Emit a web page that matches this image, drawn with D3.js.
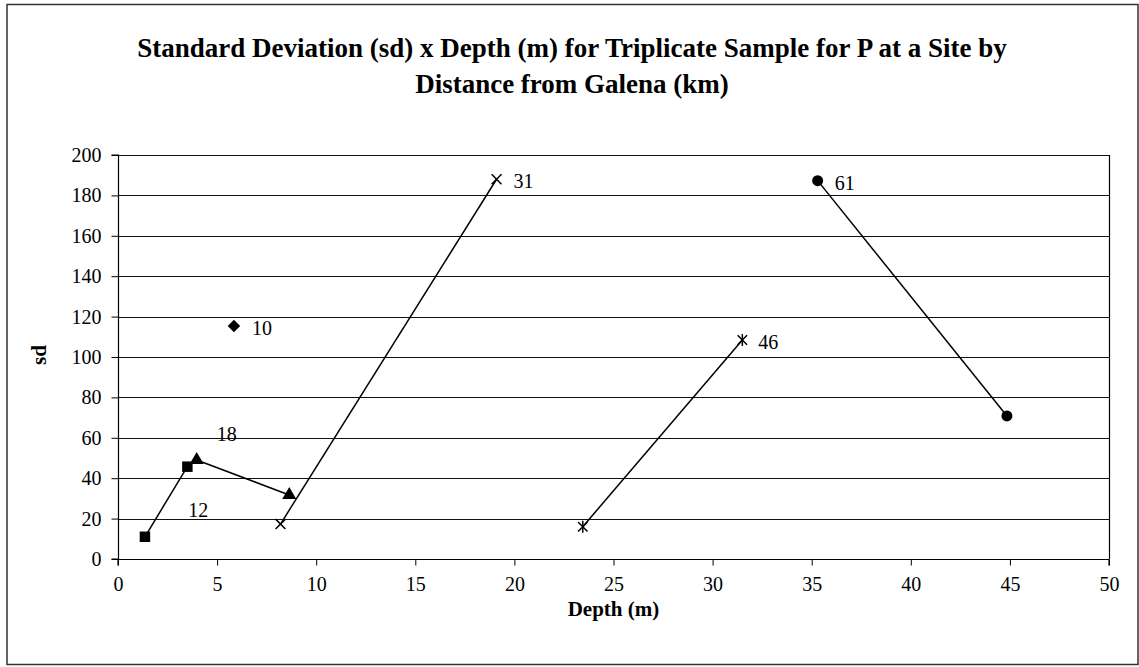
<!DOCTYPE html>
<html>
<head>
<meta charset="utf-8">
<script src="https://cdn.jsdelivr.net/npm/d3@7"></script>
<style>
  html, body { margin: 0; padding: 0; background: #fff; }
  svg { display: block; font-family: "Liberation Serif", "Times New Roman", serif; }
</style>
</head>
<body>
<svg id="chart" width="1139" height="667"></svg>
<script>
// Standard deviation of triplicate P samples versus depth, one series per site
// (site named by its distance from Galena, km).
const siteNames = ["10", "12", "18", "31", "46", "61"];
const depth10 = [5.85];
const sd10 = [115.3];
const depth12 = [1.36, 3.5];
const sd12 = [11, 45.7];
const depth18 = [3.97, 8.64];
const sd18 = [49, 31.7];
const depth31 = [8.2, 19.1];
const sd31 = [17.3, 188];
const depth46 = [23.45, 31.5];
const sd46 = [16, 108.4];
const depth61 = [35.3, 44.85];
const sd61 = [187.3, 70.8];

const xTicks = [0, 5, 10, 15, 20, 25, 30, 35, 40, 45, 50];
const yTicks = [0, 20, 40, 60, 80, 100, 120, 140, 160, 180, 200];

const titleLines = [
  "Standard Deviation (sd) x Depth (m) for Triplicate Sample for P at a Site by",
  "Distance from Galena (km)"
];
const xTitle = "Depth (m)";
const yTitle = "sd";

// Series table built from the arrays above
const seriesDepths = [depth10, depth12, depth18, depth31, depth46, depth61];
const seriesSd = [sd10, sd12, sd18, sd31, sd46, sd61];
const series = siteNames.map((name, i) => ({
  name,
  points: seriesDepths[i].map((d, j) => ({ depth: d, sd: seriesSd[i][j] }))
}));

// Presentation: marker per series, and where each name label sits
const markerKind = { "10": "diamond", "12": "square", "18": "triangle", "31": "x", "46": "star", "61": "circle" };
const labelPlacement = {
  "10": { point: 0, dx: 18, dy: 2 },
  "12": { point: 1, dx: 1, dy: 43 },
  "18": { point: 0, dx: 20, dy: -26 },
  "31": { point: 1, dx: 17, dy: 2 },
  "46": { point: 1, dx: 16, dy: 2 },
  "61": { point: 0, dx: 17, dy: 2 }
};

const FONT = "'Liberation Serif', 'Times New Roman', serif";
const svg = d3.select("#chart");
const plot = { left: 118, right: 1109, top: 155, bottom: 559 };

// Chart frame
svg.append("rect")
  .attr("x", 7).attr("y", 4.5)
  .attr("width", 1131).attr("height", 660)
  .attr("fill", "#fff").attr("stroke", "#333").attr("stroke-width", 1.5);

const x = d3.scaleLinear().domain([0, 50]).range([plot.left, plot.right]);
const y = d3.scaleLinear().domain([0, 200]).range([plot.bottom, plot.top]);

// Horizontal gridlines
svg.append("g")
  .selectAll("line")
  .data(yTicks.filter(t => t > 0))
  .join("line")
  .attr("x1", plot.left).attr("x2", plot.right)
  .attr("y1", d => Math.round(y(d)) + 0.5).attr("y2", d => Math.round(y(d)) + 0.5)
  .attr("stroke", "#111").attr("stroke-width", 1);

// Plot area right edge
svg.append("line")
  .attr("x1", plot.right + 0.5).attr("x2", plot.right + 0.5)
  .attr("y1", plot.top).attr("y2", plot.bottom)
  .attr("stroke", "#000").attr("stroke-width", 1.2);

// Axes
const xAxis = d3.axisBottom(x).tickValues(xTicks).tickSize(6).tickPadding(11).tickFormat(d3.format("d"));
const yAxis = d3.axisLeft(y).tickValues(yTicks).tickSize(7).tickPadding(10).tickFormat(d3.format("d"));

const gx = svg.append("g").attr("transform", `translate(0,${plot.bottom + 0.5})`).call(xAxis);
const gy = svg.append("g").attr("transform", `translate(${plot.left + 0.5},0)`).call(yAxis);
[gx, gy].forEach(g => {
  g.attr("font-family", FONT).attr("font-size", 20);
  g.select(".domain").attr("stroke", "#000").attr("stroke-width", 1.2);
  g.selectAll(".tick line").attr("stroke", "#000").attr("stroke-width", 1);
  g.selectAll(".tick text").attr("fill", "#000").style("font-family", FONT);
});
gx.select(".domain").attr("d", `M${plot.left},6V0H${plot.right}V6`);
gy.select(".domain").attr("d", `M-7,${plot.bottom}H0V${plot.top}H-7`);

// Series lines
const line = d3.line().x(d => x(d.depth)).y(d => y(d.sd));
svg.append("g")
  .selectAll("path")
  .data(series.filter(s => s.points.length > 1))
  .join("path")
  .attr("d", s => line(s.points))
  .attr("fill", "none")
  .attr("stroke", "#000")
  .attr("stroke-width", 1.5);

// Markers
const symbolFor = {
  diamond: d3.symbol(d3.symbolDiamond2, 100),
  square: d3.symbol(d3.symbolSquare, 110),
  triangle: d3.symbol(d3.symbolTriangle, 85),
  circle: d3.symbol(d3.symbolCircle, 95),
  x: d3.symbol(d3.symbolX, 65),
  star: d3.symbol(d3.symbolX, 60)
};
const markers = svg.append("g");
series.forEach(s => {
  const kind = markerKind[s.name];
  const g = markers.selectAll(null)
    .data(s.points)
    .join("g")
    .attr("transform", d => `translate(${x(d.depth)},${y(d.sd)})`);
  if (kind === "x" || kind === "star") {
    g.append("path").attr("d", symbolFor[kind]()).attr("fill", "none")
      .attr("stroke", "#000").attr("stroke-width", 1.5);
    if (kind === "star") {
      g.append("line").attr("x1", 0).attr("x2", 0).attr("y1", -6).attr("y2", 6)
        .attr("stroke", "#000").attr("stroke-width", 1.5);
    }
  } else {
    g.append("path").attr("d", symbolFor[kind]()).attr("fill", "#000");
  }
});

// Series name labels
svg.append("g")
  .selectAll("text")
  .data(series)
  .join("text")
  .attr("x", s => x(s.points[labelPlacement[s.name].point].depth) + labelPlacement[s.name].dx)
  .attr("y", s => y(s.points[labelPlacement[s.name].point].sd) + labelPlacement[s.name].dy)
  .attr("dominant-baseline", "central")
  .attr("font-family", FONT)
  .attr("font-size", 20)
  .attr("fill", "#000")
  .text(s => s.name);

// Titles
svg.append("g")
  .selectAll("text")
  .data(titleLines)
  .join("text")
  .attr("x", 572)
  .attr("y", (d, i) => 57 + i * 36)
  .attr("text-anchor", "middle")
  .attr("font-family", FONT)
  .attr("font-weight", "bold")
  .attr("font-size", 27)
  .attr("fill", "#000")
  .text(d => d);

svg.append("text")
  .attr("x", (plot.left + plot.right) / 2)
  .attr("y", 616)
  .attr("text-anchor", "middle")
  .attr("font-family", FONT)
  .attr("font-weight", "bold")
  .attr("font-size", 21)
  .attr("fill", "#000")
  .text(xTitle);

svg.append("text")
  .attr("transform", "translate(46,355) rotate(-90)")
  .attr("text-anchor", "middle")
  .attr("font-family", FONT)
  .attr("font-weight", "bold")
  .attr("font-size", 21)
  .attr("fill", "#000")
  .text(yTitle);
</script>
</body>
</html>
